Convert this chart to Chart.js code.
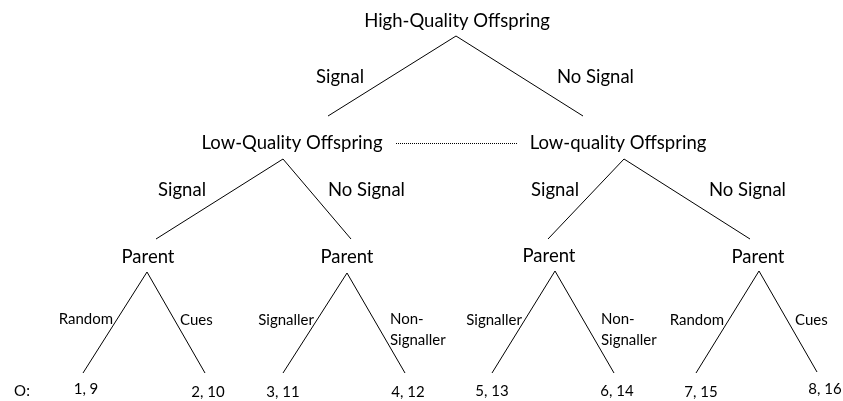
<!DOCTYPE html>
<html>
<head>
<meta charset="utf-8">
<script src="https://cdn.jsdelivr.net/npm/chart.js@4/dist/chart.umd.min.js"></script>
<style>
  html, body { margin: 0; padding: 0; background: #fff; }
  #treeChart { display: block; }
</style>
</head>
<body>
<canvas id="treeChart" width="843" height="401"></canvas>
<script>
// --------------------------------
// Tree data (units of the plot area, y grows downward)
// --------------------------------
const nodeLabels = ['High-Quality Offspring', 'Low-Quality Offspring', 'Low-quality Offspring',
                    'Parent', 'Parent', 'Parent', 'Parent'];
const nodeX = [457, 292, 618, 148, 347, 549, 758];
const nodeY = [21, 143, 143, 257, 257, 256, 257];

// branches as [fromX, fromY, toX, toY]
const rootBranches = [[456, 36, 328, 116], [456, 36, 583, 116]];
const offspringBranches = [[283, 159, 156, 239], [283, 159, 351, 239],
                           [624, 159, 548, 239], [624, 159, 750, 239]];
const parentBranches = [[147, 272, 83, 373], [147, 272, 205, 373],
                        [347, 273, 283, 373], [347, 273, 405, 373],
                        [555, 271, 492, 373], [555, 271, 614, 373],
                        [759, 271, 696, 373], [759, 271, 817, 372]];
// information set between the two low-quality offspring
const infoSet = [396, 143.5, 517, 143.5];

// branch labels: text, anchor x, y, alignment
const upperMoves = [['Signal', 364, 77, 'right'], ['No Signal', 557, 77, 'left'],
                    ['Signal', 206, 190, 'right'], ['No Signal', 328, 190, 'left'],
                    ['Signal', 579, 190, 'right'], ['No Signal', 709, 190, 'left']];
const parentMoves = [['Random', 113, 319, 'right'], ['Cues', 180, 320, 'left'],
                     ['Signaller', 314, 320, 'right'], ['Non-', 390, 319, 'left'], ['Signaller', 390, 340, 'left'],
                     ['Signaller', 522, 320, 'right'], ['Non-', 601, 319, 'left'], ['Signaller', 601, 340, 'left'],
                     ['Random', 724, 320, 'right'], ['Cues', 795, 320, 'left']];

// outcomes
const outcomeLabels = ['O:', '1, 9', '2, 10', '3, 11', '4, 12', '5, 13', '6, 14', '7, 15', '8, 16'];
const outcomeX = [22, 86, 208, 283, 408, 492, 617, 701, 825];
const outcomeY = [391, 389, 392, 392, 392, 391, 391, 392, 389];

const FONT = 'Lato, "Liberation Sans", sans-serif';

function branchDataset(b, dashed) {
    return {
        data: [{x: b[0], y: b[1]}, {x: b[2], y: b[3]}],
        showLine: true,
        pointRadius: 0,
        borderColor: '#000',
        borderWidth: 1,
        borderDash: dashed ? [1, 1] : [],
        fill: false
    };
}

const datasets = [];
rootBranches.concat(offspringBranches, parentBranches).forEach(b => datasets.push(branchDataset(b, false)));
datasets.push(branchDataset(infoSet, true));

// draws all text at data positions through the chart scales
const treeText = {
    id: 'treeText',
    afterDatasetsDraw(chart) {
        const ctx = chart.ctx;
        const xs = chart.scales.x, ys = chart.scales.y;
        ctx.save();
        ctx.fillStyle = '#000';
        ctx.textBaseline = 'middle';

        ctx.font = '18.5px ' + FONT;
        ctx.textAlign = 'center';
        for (let i = 0; i < nodeLabels.length; i++) {
            ctx.fillText(nodeLabels[i], xs.getPixelForValue(nodeX[i]), ys.getPixelForValue(nodeY[i]));
        }
        upperMoves.forEach(m => {
            ctx.textAlign = m[3];
            ctx.fillText(m[0], xs.getPixelForValue(m[1]), ys.getPixelForValue(m[2]));
        });

        ctx.font = '15px ' + FONT;
        parentMoves.forEach(m => {
            ctx.textAlign = m[3];
            ctx.fillText(m[0], xs.getPixelForValue(m[1]), ys.getPixelForValue(m[2]));
        });
        ctx.textAlign = 'center';
        for (let i = 0; i < outcomeLabels.length; i++) {
            ctx.fillText(outcomeLabels[i], xs.getPixelForValue(outcomeX[i]), ys.getPixelForValue(outcomeY[i]));
        }
        ctx.restore();
    }
};

const treectx = document.getElementById('treeChart').getContext('2d');
const treeChart = new Chart(treectx, {
    type: 'scatter',
    data: { datasets: datasets },
    options: {
        responsive: false,
        animation: false,
        events: [],
        layout: { padding: 0 },
        plugins: {
            legend: { display: false },
            tooltip: { enabled: false }
        },
        scales: {
            x: { type: 'linear', min: 0, max: 843, display: false },
            y: { type: 'linear', min: 0, max: 401, reverse: true, display: false }
        }
    },
    plugins: [treeText]
});
</script>
</body>
</html>
